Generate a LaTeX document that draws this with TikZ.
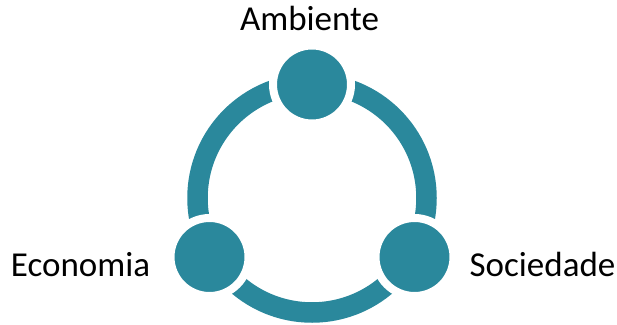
\documentclass[tikz,border=0pt]{standalone}
\usepackage{fontspec}
\setmainfont{Carlito}
\usepackage{tikz}
\usetikzlibrary{positioning}
\definecolor{petrol}{HTML}{2A889C}

\begin{document}
\begin{tikzpicture}[x=1pt, y=1pt,
  bola/.style={circle, fill=petrol, draw=white, line width=8pt, minimum size=78pt, inner sep=0pt},
  rotulo/.style={font=\fontsize{35}{41}\selectfont, inner sep=0pt, anchor=base}]
\useasboundingbox (0,0) rectangle (617,324);
\draw[petrol, line width=20.5pt] (312,126) circle (114.5);
\node[bola] (amb) at (312,239.5) {};
\node[bola] (eco) at (209.5,67) {};
\node[bola] (soc) at (414.5,67) {};
\node[rotulo] (tamb) at (309.5,293.3) {Ambiente};
\node[rotulo] (teco) at (80.5,48) {Economia};
\node[rotulo] (tsoc) at (542.5,48) {Sociedade};
\end{tikzpicture}
\end{document}
